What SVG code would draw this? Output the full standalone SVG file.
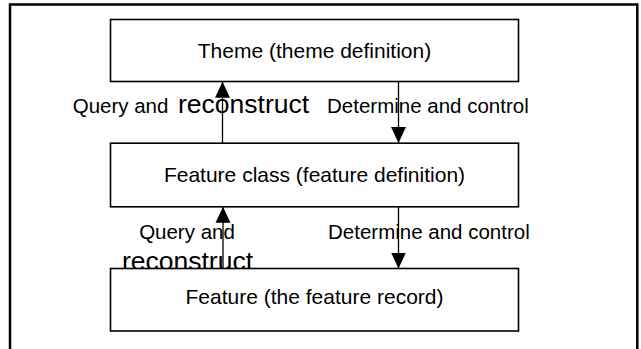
<svg xmlns="http://www.w3.org/2000/svg" width="641" height="349" viewBox="0 0 641 349">
<style>
.box{fill:#fff;stroke:#000;stroke-width:1.6}
.t{font-family:"Liberation Sans",Arial,sans-serif;font-size:20.5px;fill:#000}
.bt{font-family:"Liberation Sans",Arial,sans-serif;font-size:21px;fill:#000}
.big{font-family:"Liberation Sans",Arial,sans-serif;font-size:26.5px;fill:#000}
.c{stroke:#000;stroke-width:1.3;fill:none}
</style>
<defs>
<marker id="ah" markerUnits="userSpaceOnUse" markerWidth="16" markerHeight="16" viewBox="0 0 15 14" refX="15" refY="7" orient="auto">
<path d="M0,0 L15,7 L0,14 Z" fill="#000"/>
</marker>
</defs>
<rect x="10" y="4.5" width="627.3" height="360" fill="#fff" stroke="#000" stroke-width="2.5"/>
<g id="labels">
<text class="t" x="72.7" y="113.3">Query and</text>
<text class="big" x="178" y="113.3">reconstruct</text>
<text class="t" x="327" y="113.3">Determine and control</text>
<text class="t" x="187" y="239.3" text-anchor="middle">Query and</text>
<text class="big" x="187.5" y="270" text-anchor="middle">reconstruct</text>
<text class="t" x="328" y="238.5">Determine and control</text>
</g>
<g id="connectors">
<line class="c" x1="222.5" y1="143" x2="222.5" y2="81.7" marker-end="url(#ah)"/>
<line class="c" x1="398.5" y1="81.7" x2="398.5" y2="143" marker-end="url(#ah)"/>
<line class="c" x1="223" y1="268.5" x2="223" y2="206.8" marker-end="url(#ah)"/>
<line class="c" x1="398.5" y1="206.8" x2="398.5" y2="268.5" marker-end="url(#ah)"/>
</g>
<g id="theme">
<rect class="box" x="110.5" y="19.5" width="408" height="62"/>
<text class="bt" x="314.5" y="58.3" text-anchor="middle">Theme (theme definition)</text>
</g>
<g id="feature-class">
<rect class="box" x="110.5" y="143.2" width="408" height="63.6"/>
<text class="bt" x="314.5" y="182" text-anchor="middle">Feature class (feature definition)</text>
</g>
<g id="feature">
<rect class="box" x="110.5" y="268.5" width="408" height="62.5"/>
<text class="bt" x="314.5" y="303.5" text-anchor="middle">Feature (the feature record)</text>
</g>
</svg>
